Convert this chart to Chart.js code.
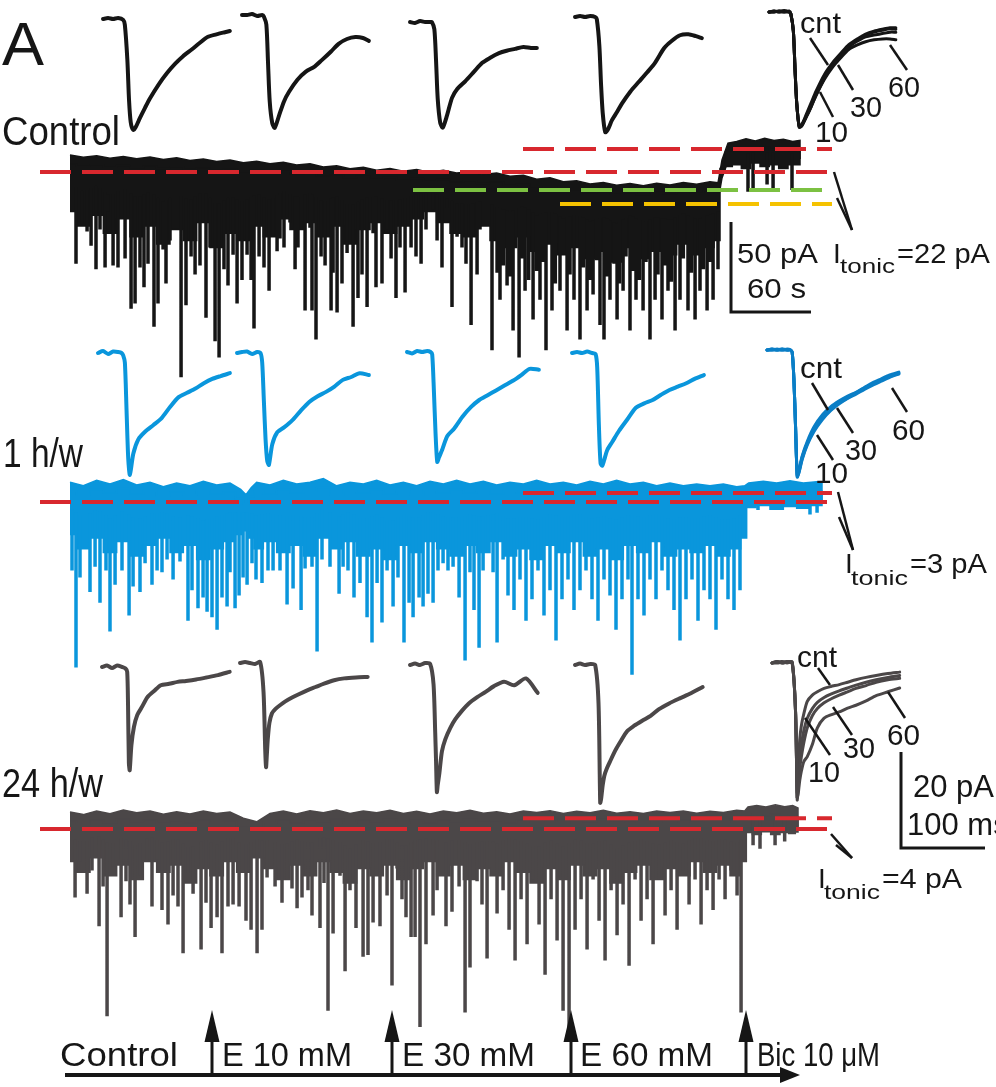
<!DOCTYPE html>
<html>
<head>
<meta charset="utf-8">
<script src="https://cdn.jsdelivr.net/npm/chart.js@4.4.0/dist/chart.umd.min.js"></script>
<style>
  html, body { margin: 0; padding: 0; background: #fff; }
  #wrap { width: 996px; height: 1087px; }
</style>
</head>
<body>
<div id="wrap"><canvas id="fig" width="996" height="1087"></canvas></div>
<script>
// --- DATA: long recordings (time in s, current in pA relative to each baseline) ---
// dense noise band of each recording: time, upper edge, lower edge
const ctrlEnvT = [0, 10, 20, 30, 40, 50, 60, 70, 80, 90, 100, 110, 120, 130, 140, 150, 160, 170, 180, 190, 200, 210, 220, 230, 240, 250, 260, 270, 280, 290, 300, 310, 320, 330, 340, 350, 360, 370, 380, 390, 400, 410, 420, 430, 440, 450, 460, 470, 480, 486,
  489, 493.5, 500, 507, 514, 521, 528, 535, 542, 547.5];
const ctrlEnvTop = [9.4, 8.2, 9.0, 7.6, 8.6, 7.4, 8.3, 7.0, 7.9, 6.4, 7.2, 5.8, 6.6, 5.2, 6.0, 4.6, 5.4, 3.9, 4.6, 2.8, 3.4, 1.8, 2.6, 1.0, 1.9, 0.4, 1.4, -0.2, 0.9, -0.6, 0.2, -1.4, -0.6, -2.4, -1.8, -4.0, -3.2, -5.4, -4.8, -6.6, -5.8, -7.4, -6.4, -7.6, -6.2, -7.2, -5.8, -6.8, -5.4, -6,
  6.7, 16, 17, 18.5, 17.2, 18.8, 17.5, 18.2, 17, 17.6];
const ctrlEnvBot = [-22, -30, -24, -34, -26, -36, -30, -40, -32, -38, -28, -42, -34, -38, -30, -36, -26, -32, -28, -36, -30, -40, -32, -28, -34, -30, -26, -22, -28, -34, -36, -30, -38, -42, -36, -44, -40, -46, -42, -48, -44, -50, -42, -48, -44, -46, -40, -46, -42, -38,
  2, 3, 4, 2, 5, 3, 4, 2, 4, 4];

// sIPSC peaks: time (s), peak current (pA)
const ctrlSpikeT = [4.5, 9, 12.8, 15.8, 19.5, 22.5, 26.3, 28.5, 32.3, 36, 41.3, 45.8, 48.8, 52.5, 55.5, 58.5, 63, 66, 69.8, 72, 75, 83.3, 87, 90.8, 93.8, 97.5, 102, 105, 108.8, 111.8, 115.5, 118.5, 122.3, 125.3, 129, 132.8, 135.8, 138, 141.8, 145.5, 149.3, 152.3, 155.3, 157.5, 160.5, 165, 168.8, 171, 176.3, 180, 181.5, 184.5, 188.3, 191.3, 195.8, 197.3, 200.3, 204, 207.8, 212.3, 216, 219, 222.8, 227.3, 229.5, 234, 237.8, 240.8, 244.5, 247.5, 251.3, 255.8, 259.5, 263.3, 267, 272.3, 275.3, 279, 282.8, 286.5, 290.3, 294, 297, 300.8, 302.3, 305.3, 307.5, 316.5, 320.3,
  322.5, 327.8, 332.3, 336.8, 341.3, 347.3, 352.5, 357, 361.5, 367.5, 372.8, 378, 382.5, 387.8, 392.3, 397.5, 400.5, 405, 410.3, 414.8, 420, 424.5, 429.8, 435, 438.8, 444, 448.5, 453.8, 457.5, 463.5, 468.8, 472.5, 477.8, 482.3, 486,
  325, 330, 339, 344, 350, 355, 364, 370, 375, 385, 390, 395, 403, 408, 412, 417, 422, 427, 432, 441, 446, 451, 460, 466, 475, 480,
  508.5, 512.3, 522.8, 527.3, 541.5];
const ctrlSpikeI = [-51, -29, -33, -41, -54, -32, -53, -22, -52, -53, -48, -76, -73, -53, -64, -51, -86, -73, -43, -62, -38, -114, -74, -47, -57, -52, -81, -42, -94, -103, -54, -63, -46, -73, -60, -46, -60, -87, -47, -53, -66, -36, -44, -37, -42, -28, -54, -42, -77, -31, -77, -93, -47, -52, -77, -56, -78, -62, -45, -86, -70, -57, -75, -34, -64, -62, -32, -48, -70, -42, -67, -42, -47, -51, -32, -21, -38, -53, -20, -75, -36, -42, -51, -85, -36, -57, -32, -99, -56,
  -71, -63, -88, -103, -66, -82, -71, -99, -77, -66, -88, -71, -93, -77, -68, -85, -93, -71, -82, -66, -88, -71, -77, -93, -71, -82, -66, -88, -71, -77, -82, -66, -77, -71, -54,
  -52, -58, -48, -60, -55, -50, -62, -46, -57, -53, -60, -49, -58, -51, -62, -47, -55, -60, -50, -57, -52, -61, -48, -56, -54, -50,
  -11, -11, -7, -10, -10];

const blueEnvT = [0, 10, 20, 30, 40, 50, 60, 70, 80, 90, 100, 110, 120, 128, 132, 136, 140, 150, 160, 170, 180, 190, 200, 210, 220, 230, 240, 250, 260, 270, 280, 290, 300, 310, 320, 330, 340, 350, 360, 370, 380, 390, 400, 410, 420, 430, 440, 450, 460, 470, 480, 490, 500, 506,
  509, 520, 530, 540, 550, 560, 564];
const blueEnvTop = [11, 9, 12, 10, 12.5, 9.5, 11, 8.5, 10.5, 9, 11.5, 9.5, 10.5, 7, 4, 8, 11, 9.5, 12, 10, 11, 13, 9, 11, 10, 12, 9.5, 11, 9, 11.5, 10, 12, 10, 11.5, 9.5, 11, 10, 12, 10, 11, 9.5, 11.5, 10, 12, 10, 11, 9, 10.5, 9, 10, 9, 10, 8.5, 9,
  10.6, 11.5, 10.5, 11.8, 10.6, 11.2, 11];
const blueEnvBot = [-18, -26, -20, -28, -22, -30, -24, -20, -28, -24, -32, -26, -22, -18, -16, -20, -26, -22, -28, -24, -30, -20, -26, -22, -30, -26, -32, -24, -28, -22, -26, -30, -24, -28, -22, -30, -26, -32, -24, -28, -22, -30, -26, -32, -24, -28, -22, -30, -26, -28, -24, -30, -26, -20,
  -3, -2, -4, -2.5, -3.5, -2, -2];

const blueSpikeT = [1.5, 4.5, 7.5, 15, 18.8, 22.5, 27, 30, 33.8, 39, 44.3, 47.3, 52.5, 56.3, 61.5, 65.3, 69, 72.8, 77.3, 82.5, 88.5, 91.5, 96, 99.8, 102.8, 106.5, 110.3, 114, 117.8, 120, 123.8, 126.8, 129.8, 132.8, 136.5, 139.5, 144, 148.5, 152.3, 157.5, 162.8, 167.3, 173.3, 176.3, 181.5, 185.3, 189, 195, 201.8, 204.8, 208.5, 213, 217.5, 222.8, 226.5, 230.3, 234, 237.8, 242.3, 246, 250.5, 254.3, 257.3, 261.8, 264.8, 268.5, 272.3, 276, 279.8, 283.5, 287.3, 291.8, 296.3, 300, 303, 306.8, 309.8, 313.5, 317.3, 320.3,
  324.8, 328.5, 333, 337.5, 342, 346.5, 351, 355.5, 360, 364.5, 369, 373.5, 378, 382.5, 387, 391.5, 396, 400.5, 405, 409.5, 414, 418.5, 421.5, 426, 430.5, 435, 439.5, 444, 448.5, 453, 457.5, 462, 466.5, 471, 475.5, 480, 484.5, 489, 493.5, 498, 502.5,
  516, 555, 560.3];
const blueSpikeI = [-38, -92, -42, -50, -36, -56, -38, -72, -46, -38, -63, -47, -50, -34, -46, -38, -39, -32, -43, -33, -66, -49, -59, -53, -61, -64, -71, -53, -58, -39, -59, -52, -42, -46, -34, -43, -45, -38, -38, -38, -57, -48, -60, -37, -36, -83, -32, -36, -51, -36, -38, -53, -45, -64, -78, -45, -67, -38, -58, -42, -78, -56, -64, -53, -58, -51, -56, -38, -34, -38, -36, -53, -88, -39, -60, -81, -38, -27, -39, -78,
  -32, -52, -60, -43, -66, -54, -38, -63, -49, -77, -54, -43, -60, -49, -38, -54, -66, -43, -52, -71, -54, -43, -96, -54, -63, -43, -54, -38, -49, -60, -77, -54, -43, -66, -49, -54, -71, -43, -54, -60, -49,
  -4.5, -7, -6];

const grayEnvT = [0, 10, 20, 30, 40, 50, 60, 70, 80, 90, 100, 110, 120, 130, 140, 150, 160, 170, 180, 190, 200, 210, 220, 230, 240, 250, 260, 270, 280, 290, 300, 310, 320, 330, 340, 350, 360, 370, 380, 390, 400, 410, 420, 430, 440, 450, 460, 470, 480, 490, 500, 506,
  508.5, 515, 522, 529, 536, 542, 546];
const grayEnvTop = [9.4, 8, 10, 8.5, 10.5, 9, 10, 8.2, 9.6, 8.4, 10, 8.6, 9.4, 6, 4, 8.6, 10, 8.4, 10.2, 9, 10.6, 8.6, 10, 9, 10.4, 8.6, 9.8, 8.4, 10, 9, 10.4, 8.8, 9.6, 8.4, 10, 9.2, 10.2, 8.6, 9.8, 9, 10.4, 8.8, 9.6, 8.6, 10, 9.2, 10, 8.8, 9.8, 9.2, 10.4, 10,
  12.2, 13, 12.2, 13.4, 12.4, 13, 11.7];
const grayEnvBot = [-18, -24, -16, -26, -20, -28, -18, -24, -20, -30, -22, -26, -18, -24, -16, -22, -28, -20, -26, -18, -24, -30, -22, -26, -20, -28, -22, -18, -26, -20, -28, -22, -26, -18, -24, -30, -22, -28, -20, -26, -22, -30, -24, -20, -28, -22, -26, -18, -24, -20, -26, -18,
  -2, -3, -1.5, -3, -2, -2.5, -1.7];

const graySpikeT = [3.8, 7.5, 12.8, 16.5, 21.8, 24.8, 27.8, 32.3, 38.3, 42, 45, 48.8, 52.5, 57.8, 61.5, 65.3, 69, 73.5, 77.3, 81, 84.8, 88.5, 92.3, 98.3, 102, 105.8, 110.3, 114, 118.5, 122.3, 126.8, 132, 135.8, 140.3, 144, 147.8, 153.8, 159, 162.8, 166.5, 170.3, 174, 178.5, 181.5, 187.5, 190.5, 193.5, 197.3, 202.5, 206.3, 210, 214.5, 219.8, 223.5, 227.3, 232.5, 237.8, 241.5, 245.3, 249, 252, 255.8, 258.8, 262.5, 267, 272.3, 275.3, 282, 286.5, 291.8, 296.3, 300, 305.3, 309, 312.8, 317.3, 320.3,
  324.8, 329.3, 333.8, 338.3, 342.8, 347.3, 351.8, 356.3, 360.8, 365.3, 369.8, 374.3, 378.8, 383.3, 387.8, 392.3, 396.8, 401.3, 405.8, 410.3, 414.8, 419.3, 423.8, 428.3, 432.8, 437.3, 441.8, 446.3, 450.8, 455.3, 459.8, 464.3, 468.8, 473.3, 477.8, 482.3, 486.8, 491.3, 495.8, 500.3, 503.3,
  512.3, 517.5, 528.8, 536];
const graySpikeI = [-38, -18, -36, -23, -54, -32, -104, -21, -49, -29, -42, -60, -26, -18, -43, -17, -45, -53, -37, -43, -69, -24, -36, -67, -41, -55, -49, -69, -43, -42, -43, -51, -56, -69, -56, -27, -32, -41, -28, -33, -44, -38, -34, -48, -55, -30, -101, -58, -26, -79, -34, -55, -71, -70, -52, -54, -37, -87, -22, -39, -49, -60, -60, -110, -64, -48, -34, -54, -46, -32, -102, -77, -29, -42, -72, -7, -47,
  -34, -56, -73, -39, -64, -28, -53, -81, -39, -62, -101, -114, -56, -39, -67, -28, -51, -73, -34, -59, -42, -76, -28, -51, -39, -64, -28, -48, -34, -56, -23, -42, -28, -53, -34, -45, -28, -39, -23, -37, -102,
  -9, -11, -9, -7];

// --- DATA: averaged sIPSCs (time in ms, current in pA relative to pre-event baseline) ---
const ctrlInsetT = [0, 6, 12, 18, 24, 26, 29, 31, 33, 36, 39, 44, 50, 56, 66, 76, 86, 95, 106, 115, 125, 135, 144, 151];
const ctrlInset1 = [0, 0.2, 0, 0.2, -0.2, -1.2, -8.5, -16.9, -21.5, -23.1, -22.5, -20.6, -18.5, -16.5, -13.7, -11.3, -9.3, -7.8, -6.3, -5, -3.7, -3.2, -2.8, -2.5];
const ctrlInset2 = [0, 0, 0.2, -0.2, 0, -0.3, -2, -10, -18, -22.5, -23.5, -21, -18, -16, -13.5, -11.8, -10.8, -9.4, -7.6, -6, -5, -4.6, -4.8, -5.4];
const ctrlInset3 = [0, -0.2, 0.2, 0, 0, 0, -1.5, -8, -16, -21, -22, -19.5, -15.8, -14, -12.3, -10.4, -8.5, -7.5, -6.5, -6, -5.6, -5.2, -5.4, -5.4];
const ctrlInset4 = [0, 0.2, 0, 0.2, 0, -0.5, -6, -14, -20, -24, -23.5, -21.5, -19.8, -18, -15.5, -13.5, -11.5, -9.6, -6.5, -5, -3.8, -3.6, -4, -4.4];
const ctrlOverlayCnt = [0, 0.2, 0, 0.3, 0, -0.4, -4, -12, -19, -24, -23.5, -21.5, -19, -16.5, -13, -10.5, -8.5, -6.8, -5.5, -4.6, -4, -3.6, -3.3, -3.3];
const ctrlOverlay10  = [0, 0, 0.2, 0.2, 0, -0.4, -4, -12, -19, -24, -23.8, -22, -19.8, -17.3, -13.8, -11, -9, -7.2, -5.8, -4.8, -4.2, -3.8, -3.5, -3.6];
const ctrlOverlay30  = [0, 0.2, 0, 0, 0.2, -0.4, -4, -12, -19, -23.8, -23.5, -21.8, -19.5, -17, -13.5, -11, -8.8, -7.2, -6, -5.2, -4.8, -4.5, -4.2, -4.2];
const ctrlOverlay60  = [0, 0, 0.2, 0, 0, -0.4, -4, -12, -19, -23.8, -23.6, -22, -19.8, -17.4, -14, -11.4, -9.4, -7.8, -6.8, -6.2, -5.8, -5.6, -5.6, -5.8];

const blueInsetT = [0, 6, 12, 18, 24, 28, 30, 32, 34, 36, 38, 42, 48, 56, 66, 76, 86, 96, 106, 116, 126, 136, 146, 157];
const blueInset1 = [0, 0.4, -0.2, 0.3, 0.2, 0, -0.5, -2, -12, -22, -25.4, -21, -18, -16.4, -15, -13.5, -11.2, -9.2, -8.3, -7.4, -6.3, -5.4, -4.8, -4.2];
const blueInset2 = [0, 0.2, 0.3, -0.2, 0.2, 0, -2, -10, -18, -22.5, -23.3, -19, -16.5, -15.5, -14, -12, -10.2, -9, -8.1, -7, -5.6, -5, -4.2, -4.6];
const blueInset3 = [0, -0.3, 0.2, 0, 0.2, 0, -0.5, -8, -17, -22.9, -22, -20.3, -17.5, -16, -13.5, -11.5, -10, -9, -8, -7, -6, -4.8, -3.5, -3.7];
const blueInset4 = [0, 0.2, 0, 0.3, 0, -0.2, -3, -15, -23, -23.5, -22.5, -20.2, -18.5, -16.2, -13.8, -11.4, -10.5, -9.8, -8.7, -7.7, -7, -6.3, -5.4, -4.6];
const blueOverlayCnt = [0, 0.2, 0, 0.2, 0, 0, -0.5, -6, -16, -26, -25, -22, -19, -16, -13.5, -11.8, -10.6, -9.6, -8.8, -7.8, -6.8, -6, -5.2, -4.6];
const blueOverlay10  = [0, 0, 0.2, 0, 0.2, 0, -0.5, -6, -16, -26.5, -25.5, -22.5, -19.5, -16.5, -14, -12.2, -10.8, -9.8, -8.9, -7.9, -7, -6.2, -5.4, -4.8];
const blueOverlay30  = [0, 0.2, 0, 0, 0, 0, -0.5, -6, -16, -26.2, -25.2, -22.2, -19.4, -16.6, -14.2, -12.4, -11, -10, -9, -8, -7.1, -6.3, -5.5, -4.9];
const blueOverlay60  = [0, 0, 0, 0.2, 0, 0, -0.5, -6, -16, -26.3, -25.6, -22.8, -19.8, -17, -14.5, -12.6, -11.2, -10.1, -9.2, -8.2, -7.3, -6.5, -5.7, -5];

const grayInsetT = [0, 6, 12, 18, 24, 28, 30, 31, 32, 33, 35, 38, 42, 48, 54, 62, 70, 80, 90, 100, 112, 124, 138, 152];
const grayInset1 = [0, 0.3, -0.2, 0.3, 0, -0.3, -1, -8, -20, -21.5, -16.3, -12.5, -10, -8.2, -6.3, -5, -3.8, -3.5, -3.1, -2.9, -2.6, -2.2, -1.7, -1];
const grayInset2 = [0, 0.2, 0, -0.2, 0.2, -6, -18, -21.7, -19, -16, -12.5, -10.5, -9.6, -8.75, -8, -7.2, -6.5, -5.7, -5, -4.3, -3.6, -3.2, -3, -2.9];
const grayInset3 = [0, 0.3, 0, 0.4, 0.2, -4, -14, -20, -26.5, -25, -22.5, -18, -15.5, -13.1, -11.3, -9.5, -8, -6.7, -5.6, -4.4, -3.5, -4.2, -2.8, -5.8];
const grayInset4 = [0, 0.3, 0, 0.2, 0, -8, -28.7, -28, -26.5, -25, -23, -21.5, -20, -17.8, -16, -13.8, -12.7, -11.6, -10.6, -9.2, -8, -7, -5.9, -4.6];
const grayOverlayCnt = [0, 0.3, 0, 0.2, 0, -10, -28.5, -25, -20, -16, -13, -10.5, -8, -6.7, -6, -5.3, -4.9, -4.5, -4, -3.5, -3, -2.6, -2.2, -1.9];
const grayOverlay10  = [0, 0.2, 0.3, 0, 0.2, -10, -28, -26, -23, -20, -17, -14, -11.5, -9.5, -8.2, -7.2, -6.5, -5.8, -5.2, -4.6, -4, -3.5, -3, -2.6];
const grayOverlay30  = [0, 0, 0.2, 0.3, 0, -10, -27, -26, -24, -22, -19.5, -16.5, -13.5, -11, -9.5, -8.3, -7.5, -6.7, -6, -5.3, -4.7, -4, -3.5, -3.2];
const grayOverlay60  = [0, 0.3, 0, 0.2, 0.2, -10, -28, -27.5, -26, -24.5, -22.5, -20.5, -19.5, -17, -13.5, -11.5, -10.8, -10.2, -9.4, -8.8, -7.9, -6.8, -6, -5.2];

// tonic current levels (pA from control baseline) and where each level line starts (s)
const ctrlLevels = [0, 12.8, -10, -17.8];
const ctrlLevelStart = [-22.5, 339.75, 257.25, 367.5];
const blueLevels = [0, 5];
const grayLevels = [0, 6];
const levelStart = [-22.5, 339.75];
const levelEnd = 571.5;

// drug application times (s) and labels
const protoT = [106.5, 241.5, 375.75, 507];
const protoLabels = ['Control', 'E 10 mM', 'E 30 mM', 'E 60 mM', 'Bic 10 \u03bcM'];

// scale bars
const barMainPA = 50, barMainS = 60, barInsetPA = 20, barInsetMS = 100;

// --- LAYOUT ---
const W = 996, H = 1087;
const FONT = '"Liberation Sans", Arial, Helvetica, sans-serif';
const X0 = 70, PX_PER_S = 4 / 3, PX_PER_PA = 1.8;
const BASE_Y = { ctrl: 172, blue: 502, gray: 829 };
const IN_PX_PER_MS = 0.84, IN_PX_PER_PA = 4.8;
const ctrlInsetLeft = [103, 242, 410, 575, 769], ctrlInsetBase = [19, 15, 22, 17, 12];
const blueInsetLeft = [98, 237, 407, 572, 767], blueInsetBase = [353, 353, 352, 353, 350];
const grayInsetLeft = [102, 240, 410, 575, 772], grayInsetBase = [667, 663, 665, 665, 663];

const COL = { ctrl: '#151515', blue: '#0a96dc', blueDark: '#0a7ec6', gray: '#4b4748',
  red: '#d8282e', green: '#7cc142', orange: '#f5c200', ink: '#161616' };

function yRange(zero, ppu) { return { min: (zero - H) / ppu, max: zero / ppu }; }
function hidden(o) { return Object.assign({ type: 'linear', display: false, bounds: 'data' }, o); }

const scales = {
  x:  hidden({ min: -X0 / PX_PER_S, max: (W - X0) / PX_PER_S }),
  yC: hidden(yRange(BASE_Y.ctrl, PX_PER_PA)),
  yB: hidden(yRange(BASE_Y.blue, PX_PER_PA)),
  yG: hidden(yRange(BASE_Y.gray, PX_PER_PA)),
  xi: hidden({ min: 0, max: W / IN_PX_PER_MS }),
  yi: hidden({ min: -H / IN_PX_PER_PA, max: 0 }),
  yF: hidden({ min: 0, max: H, reverse: true })
};

// --- DATASET BUILDERS ---
const datasets = [];

function envAt(T, V, t) {
  for (let i = 1; i < T.length; i++) {
    if (t <= T[i]) { const f = (t - T[i - 1]) / (T[i] - T[i - 1]); return V[i - 1] + f * (V[i] - V[i - 1]); }
  }
  return V[V.length - 1];
}

function bandShape(envT, upper, lower) {
  const poly = envT.map((t, i) => ({ x: t, y: upper[i] }));
  for (let i = envT.length - 1; i >= 0; i--) poly.push({ x: envT[i], y: lower[i] });
  return poly;
}

function addRecording(envT, top, bot, spT, spI, yAxis, color, spikeWidth) {
  // noisy upper edge of the band (straight segments)
  datasets.push({ data: bandShape(envT, top, top.map(v => v - 10)), xAxisID: 'x', yAxisID: yAxis, showLine: true,
    fill: 'shape', backgroundColor: color, borderColor: color, borderWidth: 1.5, pointRadius: 0, tension: 0 });
  // comb-like lower edge made of densely packed small events
  datasets.push({ data: bandShape(envT, top.map(v => v - 5), bot), xAxisID: 'x', yAxisID: yAxis, showLine: true,
    fill: 'shape', stepped: 'middle', backgroundColor: color, borderColor: color, borderWidth: 1.5, pointRadius: 0 });
  const pts = [];
  spT.forEach((t, i) => {
    const start = (envAt(envT, top, t) + envAt(envT, bot, t)) / 2;
    pts.push({ x: t, y: start }, { x: t, y: spI[i] }, { x: t, y: null });
  });
  datasets.push({ data: pts, xAxisID: 'x', yAxisID: yAxis, showLine: true, spanGaps: false,
    borderColor: color, borderWidth: spikeWidth, pointRadius: 0, borderCapStyle: 'butt' });
}

function addInset(tArr, vals, left, base, color, width) {
  const x0 = left / IN_PX_PER_MS, y0 = -base / IN_PX_PER_PA;
  datasets.push({ data: tArr.map((t, i) => ({ x: x0 + t, y: y0 + vals[i] })), xAxisID: 'xi', yAxisID: 'yi',
    showLine: true, borderColor: color, borderWidth: width || 4, pointRadius: 0, tension: 0.25,
    borderJoinStyle: 'round', borderCapStyle: 'round' });
}

function addLevel(yAxis, level, t0, color) {
  datasets.push({ data: [{ x: t0, y: level }, { x: levelEnd, y: level }], xAxisID: 'x', yAxisID: yAxis,
    showLine: true, borderColor: color, borderWidth: 4, borderDash: [31, 11], pointRadius: 0 });
}

function addPlain(pts, xId, yId, width) {
  datasets.push({ data: pts, xAxisID: xId, yAxisID: yId, showLine: true, borderColor: COL.ink,
    borderWidth: width || 3, pointRadius: 0, borderCapStyle: 'butt' });
}

// recordings
addRecording(ctrlEnvT, ctrlEnvTop, ctrlEnvBot, ctrlSpikeT, ctrlSpikeI, 'yC', COL.ctrl, 3.5);
addRecording(blueEnvT, blueEnvTop, blueEnvBot, blueSpikeT, blueSpikeI, 'yB', COL.blue, 3.5);
addRecording(grayEnvT, grayEnvTop, grayEnvBot, graySpikeT, graySpikeI, 'yG', COL.gray, 3.5);

// averaged events
[ctrlInset1, ctrlInset2, ctrlInset3, ctrlInset4].forEach((v, i) => addInset(ctrlInsetT, v, ctrlInsetLeft[i], ctrlInsetBase[i], COL.ctrl));
[ctrlOverlayCnt, ctrlOverlay10, ctrlOverlay30, ctrlOverlay60].forEach(v => addInset(ctrlInsetT, v, ctrlInsetLeft[4], ctrlInsetBase[4], COL.ctrl, 3));
[blueInset1, blueInset2, blueInset3, blueInset4].forEach((v, i) => addInset(blueInsetT, v, blueInsetLeft[i], blueInsetBase[i], COL.blue));
[blueOverlayCnt, blueOverlay10, blueOverlay30, blueOverlay60].forEach(v => addInset(blueInsetT, v, blueInsetLeft[4], blueInsetBase[4], COL.blueDark, 3));
[grayInset1, grayInset2, grayInset3, grayInset4].forEach((v, i) => addInset(grayInsetT, v, grayInsetLeft[i], grayInsetBase[i], COL.gray));
[grayOverlayCnt, grayOverlay10, grayOverlay30, grayOverlay60].forEach(v => addInset(grayInsetT, v, grayInsetLeft[4], grayInsetBase[4], COL.gray, 3));

// tonic current level lines
const ctrlLevelCols = [COL.red, COL.red, COL.green, COL.orange];
ctrlLevels.forEach((lv, i) => addLevel('yC', lv, ctrlLevelStart[i], ctrlLevelCols[i]));
blueLevels.forEach((lv, i) => addLevel('yB', lv, levelStart[i], COL.red));
grayLevels.forEach((lv, i) => addLevel('yG', lv, levelStart[i], COL.red));

// scale bars
const barT0 = (731 - X0) / PX_PER_S, barI0 = (BASE_Y.ctrl - 222) / PX_PER_PA;
addPlain([{ x: barT0, y: barI0 }, { x: barT0, y: barI0 - barMainPA }, { x: barT0 + barMainS, y: barI0 - barMainPA }], 'x', 'yC', 3);
const ibX0 = 901 / IN_PX_PER_MS, ibY0 = -752 / IN_PX_PER_PA;
addPlain([{ x: ibX0, y: ibY0 }, { x: ibX0, y: ibY0 - barInsetPA }, { x: ibX0 + barInsetMS, y: ibY0 - barInsetPA }], 'xi', 'yi', 3);

// protocol axis
const AXIS_Y = 1075, ARROW_TIP = 1010, AXIS_START_T = -3.75, AXIS_END_T = 547.5;
addPlain([{ x: AXIS_START_T, y: AXIS_Y }, { x: AXIS_END_T - 12, y: AXIS_Y }], 'x', 'yF', 4);
protoT.forEach(t => addPlain([{ x: t, y: AXIS_Y }, { x: t, y: ARROW_TIP + 25 }], 'x', 'yF', 3));

// draw later datasets on top
datasets.forEach((d, i) => { d.order = datasets.length - i; });

// --- TEXT & LEADER LINES ---
const LABELS = [
  ['A', 2, 65, 62, 42], ['Control', 2, 145, 40, 118], ['1 h/w', 3, 467, 40, 80], ['24 h/w', 2, 797, 40, 101],
  ['cnt', 800, 33, 29, 41], ['10', 815, 142, 29, 33], ['30', 850, 117, 29, 32], ['60', 888, 97, 29, 32],
  ['cnt', 800, 378, 29, 42], ['10', 815, 483, 29, 33], ['30', 845, 460, 29, 32], ['60', 892, 440, 29, 33],
  ['cnt', 797, 667, 29, 40], ['10', 808, 782, 29, 32], ['30', 843, 758, 29, 32], ['60', 887, 745, 29, 33],
  ['50 pA', 737, 263, 28, 81], ['60 s', 747, 298, 28, 59], ['20 pA', 913, 797, 31, 0], ['100 ms', 907, 835, 31, 0],
  ['I', 833, 263, 28, 0], ['tonic', 840, 273, 21, 55], ['=22 pA', 897, 263, 28, 93],
  ['I', 845, 573, 28, 0], ['tonic', 851, 585, 21, 57], ['=3 pA', 910, 573, 28, 77],
  ['I', 818, 888, 28, 0], ['tonic', 824, 899, 21, 56], ['=4 pA', 882, 888, 28, 80]
];
const PROTO_LABEL_POS = [[60, 118], [222, 130], [402, 133], [580, 133], [757, 123]];
const LEADERS = [
  [810, 38, 828, 65], [820, 92, 833, 117], [838, 65, 853, 90], [890, 45, 907, 70],
  [812, 383, 828, 410], [817, 435, 833, 460], [837, 408, 853, 433], [892, 388, 907, 412],
  [818, 668, 830, 685], [805, 718, 830, 755], [833, 707, 852, 735], [888, 692, 905, 718],
  [834, 172, 852, 230], [837, 198, 852, 230], [838, 492, 853, 550], [839, 517, 853, 550],
  [831, 834, 852, 858], [836, 845, 852, 858]
];

function drawText(ctx, str, x, y, size, width) {
  ctx.font = size + 'px ' + FONT;
  const w = ctx.measureText(str).width;
  ctx.save();
  ctx.translate(x, y);
  if (width) ctx.scale(width / w, 1);
  ctx.fillText(str, 0, 0);
  ctx.restore();
}

const annotations = {
  id: 'annotations',
  afterDatasetsDraw(chart) {
    const ctx = chart.ctx, xs = chart.scales.x;
    ctx.save();
    ctx.fillStyle = COL.ink;
    ctx.strokeStyle = COL.ink;
    ctx.lineWidth = 2.5;
    LEADERS.forEach(l => { ctx.beginPath(); ctx.moveTo(l[0], l[1]); ctx.lineTo(l[2], l[3]); ctx.stroke(); });
    // arrow heads
    protoT.forEach(t => {
      const x = xs.getPixelForValue(t);
      ctx.beginPath(); ctx.moveTo(x, ARROW_TIP); ctx.lineTo(x + 7.5, ARROW_TIP + 32); ctx.lineTo(x - 7.5, ARROW_TIP + 32); ctx.closePath(); ctx.fill();
    });
    const xe = xs.getPixelForValue(AXIS_END_T);
    ctx.beginPath(); ctx.moveTo(xe, AXIS_Y); ctx.lineTo(xe - 20, AXIS_Y - 8); ctx.lineTo(xe - 20, AXIS_Y + 8); ctx.closePath(); ctx.fill();
    ctx.textBaseline = 'alphabetic';
    LABELS.forEach(l => drawText(ctx, l[0], l[1], l[2], l[3], l[4]));
    protoLabels.forEach((s, i) => drawText(ctx, s, PROTO_LABEL_POS[i][0], 1066, 34, PROTO_LABEL_POS[i][1]));
    ctx.restore();
  }
};

new Chart(document.getElementById('fig'), {
  type: 'scatter',
  data: { datasets: datasets },
  options: {
    responsive: false,
    animation: false,
    devicePixelRatio: 1,
    events: [],
    layout: { padding: 0 },
    scales: scales,
    plugins: { legend: { display: false }, tooltip: { enabled: false } }
  },
  plugins: [annotations]
});
</script>
</body>
</html>
